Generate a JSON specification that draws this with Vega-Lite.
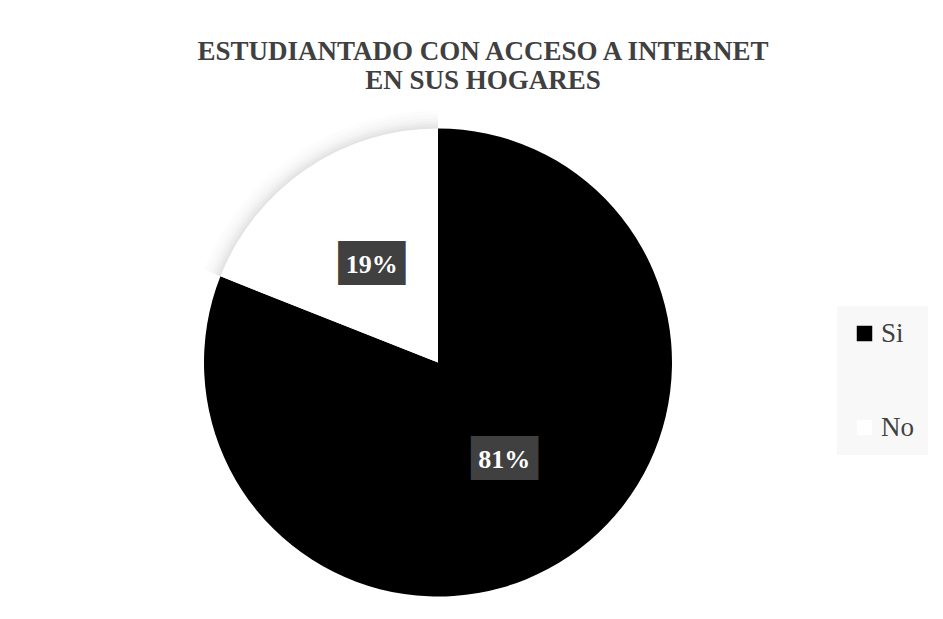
{
  "$schema": "https://vega.github.io/schema/vega-lite/v6.json",
  "width": 876,
  "height": 513,
  "autosize": {"type": "none"},
  "padding": {"left": 0, "top": 106, "right": 67, "bottom": 0},
  "background": "white",
  "title": {
    "text": ["ESTUDIANTADO CON ACCESO A INTERNET", "EN SUS HOGARES"],
    "font": "Liberation Serif",
    "fontSize": 27,
    "fontWeight": "bold",
    "color": "#404040",
    "anchor": "middle",
    "frame": "group",
    "dx": 45,
    "offset": -10,
    "lineHeight": 29,
    "baseline": "alphabetic"
  },
  "data": {
    "values": [
      {"respuesta": "Si", "proporcion": 0.81},
      {"respuesta": "No", "proporcion": 0.19}
    ]
  },
  "encoding": {
    "theta": {"field": "proporcion", "type": "quantitative", "stack": true},
    "order": {"field": "proporcion", "sort": "descending"}
  },
  "config": {
    "view": {"stroke": null},
    "legend": {"labelFont": "Liberation Serif", "labelFontSize": 27, "labelColor": "#404040"}
  },
  "layer": [
    {
      "mark": {"type": "arc", "outerRadius": 252, "fill": "#000000", "fillOpacity": 0.01},
      "encoding": {"opacity": {"condition": {"test": "datum.respuesta === 'No'", "value": 1}, "value": 0}}
    },
    {
      "mark": {"type": "arc", "outerRadius": 248, "fill": "#000000", "fillOpacity": 0.013},
      "encoding": {"opacity": {"condition": {"test": "datum.respuesta === 'No'", "value": 1}, "value": 0}}
    },
    {
      "mark": {"type": "arc", "outerRadius": 244.5, "fill": "#000000", "fillOpacity": 0.016},
      "encoding": {"opacity": {"condition": {"test": "datum.respuesta === 'No'", "value": 1}, "value": 0}}
    },
    {
      "mark": {"type": "arc", "outerRadius": 241.5, "fill": "#000000", "fillOpacity": 0.019},
      "encoding": {"opacity": {"condition": {"test": "datum.respuesta === 'No'", "value": 1}, "value": 0}}
    },
    {
      "mark": {"type": "arc", "outerRadius": 239, "fill": "#000000", "fillOpacity": 0.022},
      "encoding": {"opacity": {"condition": {"test": "datum.respuesta === 'No'", "value": 1}, "value": 0}}
    },
    {
      "mark": {"type": "arc", "outerRadius": 236.5, "fill": "#000000", "fillOpacity": 0.025},
      "encoding": {"opacity": {"condition": {"test": "datum.respuesta === 'No'", "value": 1}, "value": 0}}
    },
    {
      "mark": {"type": "arc", "outerRadius": 234},
      "encoding": {
        "color": {
          "field": "respuesta",
          "type": "nominal",
          "scale": {"domain": ["Si", "No"], "range": ["#000000", "#ffffff"]},
          "legend": {
            "title": null,
            "orient": "none",
            "legendX": 837,
            "legendY": 200,
            "fillColor": "#f8f8f8",
            "padding": 14,
            "symbolType": "square",
            "symbolSize": 240,
            "symbolStrokeWidth": 0,
            "labelFont": "Liberation Serif",
            "labelFontSize": 27,
            "labelColor": "#404040",
            "rowPadding": 66,
            "labelOffset": 3
          }
        }
      }
    },
    {
      "mark": {"type": "text", "radius": 118, "text": "███", "font": "DejaVu Sans Mono", "fontSize": 37, "color": "#404040", "baseline": "middle"}
    },
    {
      "mark": {"type": "text", "radius": 118, "font": "Liberation Serif", "fontSize": 26, "fontWeight": "bold", "color": "#ffffff", "baseline": "middle"},
      "encoding": {"text": {"field": "proporcion", "format": ".0%"}}
    }
  ]
}
